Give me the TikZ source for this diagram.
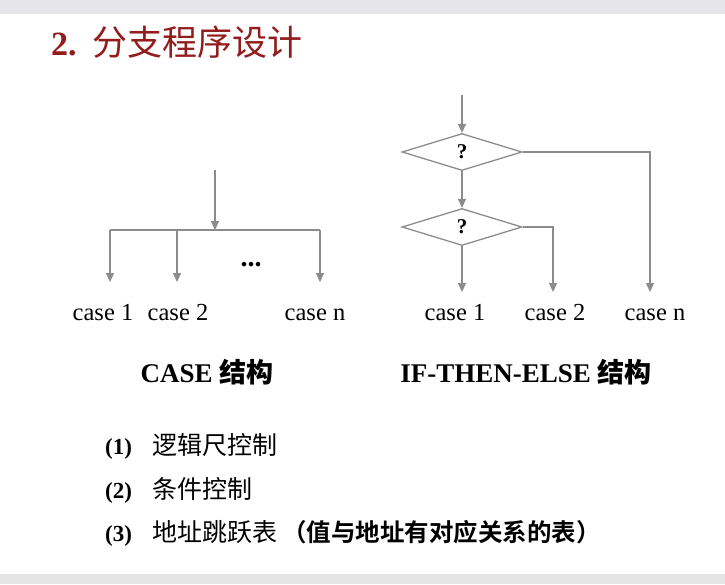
\documentclass[tikz,border=0pt]{standalone}
\usepackage{fontspec}
\usetikzlibrary{arrows.meta,shapes.geometric}
\setmainfont{Liberation Serif}
\newfontfamily\cjk{Noto Sans CJK SC}
\newfontfamily\cjkb{Noto Sans CJK SC Bold}
\definecolor{titlered}{HTML}{931C1C}
\definecolor{linegray}{HTML}{8C8C8C}
\definecolor{topgray}{HTML}{E6E6EA}
\definecolor{botgray}{HTML}{E4E4E4}
\begin{document}
\begin{tikzpicture}[x=1pt,y=-1pt,
  line/.style={draw=linegray, line width=1.3pt},
  arr/.style={line, -{Triangle[width=8pt,length=9pt]}},
  caselbl/.style={font=\fontsize{24.5}{24.5}\selectfont, inner sep=0pt, anchor=base},
  head/.style={font=\bfseries\fontsize{27}{27}\selectfont, inner sep=0pt, anchor=base},
  item/.style={font=\fontsize{23}{23}\selectfont, inner sep=0pt, anchor=base west},
  citem/.style={font=\fontsize{25}{25}\selectfont, inner sep=0pt, anchor=base west},
  dia/.style={diamond, draw=linegray, line width=1.3pt, minimum width=120pt, minimum height=37pt, inner sep=0pt, font=\bfseries\fontsize{21}{21}\selectfont},
]
\useasboundingbox (0,0) rectangle (725,584);
\fill[white] (0,0) rectangle (725,584);
\fill[topgray] (0,0) rectangle (725,14);
\fill[botgray] (0,574) rectangle (725,584);

% title
\node[anchor=base west, inner sep=0pt, text=titlered, font=\fontsize{34}{34}\selectfont] (title) at (51,55)
  {\textbf{2.}\hspace{16pt}{\cjk\fontsize{35}{35}\selectfont 分支程序设计}};

% CASE structure
\coordinate (cin) at (215,170);
\coordinate (cj) at (215,230);
\coordinate (cl) at (110,230);
\coordinate (cm) at (177,230);
\coordinate (cr) at (320,230);
\coordinate (ce1) at (110,282);
\coordinate (ce2) at (177,282);
\coordinate (cen) at (320,282);
\draw[arr] (cin) -- (cj);
\draw[line] (cl) -- (cr);
\draw[arr] (cl) -- (ce1);
\draw[arr] (cm) -- (ce2);
\draw[arr] (cr) -- (cen);
\node[font=\bfseries\fontsize{28}{28}\selectfont, inner sep=0pt] (dots) at (251,265) {...};
\node[caselbl] (c1) at (103,320) {case 1};
\node[caselbl] (c2) at (178,320) {case 2};
\node[caselbl] (cn) at (315,320) {case n};
\node[head] (h1) at (207,382) {CASE {\cjkb 结构}};

% IF-THEN-ELSE structure
\coordinate (iin) at (462,95);
\node[dia] (d1) at (462,152) {?};
\node[dia] (d2) at (462,227) {?};
\coordinate (ie1) at (462,292);
\coordinate (ie2) at (553,292);
\coordinate (ien) at (650,292);
\draw[arr] (iin) -- (d1.north);
\draw[arr] (d1.south) -- (d2.north);
\draw[arr] (d2.south) -- (ie1);
\draw[arr] (d2.east) -| (ie2);
\draw[arr] (d1.east) -| (ien);
\node[caselbl] (i1) at (455,320) {case 1};
\node[caselbl] (i2) at (555,320) {case 2};
\node[caselbl] (in) at (655,320) {case n};
\node[head] (h2) at (526,382) {IF-THEN-ELSE {\cjkb 结构}};

% list
\node[item] (n1) at (105,454) {\textbf{(1)}};
\node[citem] (t1) at (152,454) {\cjk 逻辑尺控制};
\node[item] (n2) at (105,498) {\textbf{(2)}};
\node[citem] (t2) at (152,498) {\cjk 条件控制};
\node[item] (n3) at (105,541) {\textbf{(3)}};
\node[citem] (t3) at (152,541) {{\cjk 地址跳跃表}\hspace{5pt}{\cjkb\fontsize{24.5}{24.5}\selectfont （值与地址有对应关系的表）}};
\end{tikzpicture}
\end{document}
